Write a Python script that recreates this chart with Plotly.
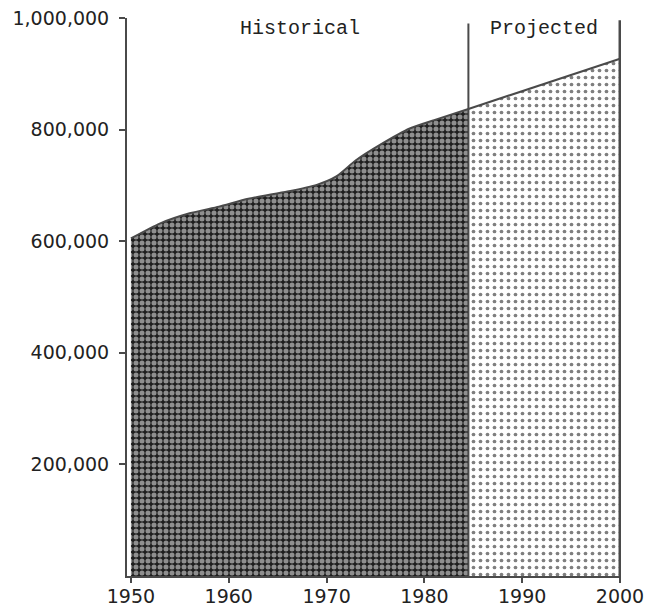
import plotly.graph_objects as go

# Data
hist_years = [1950, 1953, 1956, 1959, 1962, 1966, 1969, 1971, 1973, 1975.5, 1978.5, 1981, 1984.5]
hist_values = [605000, 632000, 650000, 662000, 676000, 689000, 701000, 716000, 745000, 773000, 802000, 817000, 837000]
proj_years = [1984.5, 2000]
proj_values = [837000, 927000]
x_ticks = [1950, 1960, 1970, 1980, 1990, 2000]
y_ticks = [200000, 400000, 600000, 800000, 1000000]
y_tick_labels = ["200,000", "400,000", "600,000", "800,000", "1,000,000"]
section_labels = ["Historical", "Projected"]

line_col = "#4a4a4a"
text_col = "#222222"

fig = go.Figure()
fig.add_trace(go.Scatter(
    x=hist_years, y=hist_values, mode="lines", fill="tozeroy",
    line=dict(color=line_col, width=2, shape="spline", smoothing=0.6),
    fillcolor="white",
    fillpattern=dict(shape=".", size=6, solidity=0.55, fgcolor="white", bgcolor="#1e1e1e"),
    hoverinfo="skip", showlegend=False,
))
fig.add_trace(go.Scatter(
    x=proj_years, y=proj_values, mode="lines", fill="tozeroy",
    line=dict(color=line_col, width=2),
    fillcolor="white",
    fillpattern=dict(shape=".", size=7, solidity=0.22, fgcolor="#000000", bgcolor="white"),
    hoverinfo="skip", showlegend=False,
))

# Vertical boundary lines
fig.add_shape(type="line", x0=proj_years[0], x1=proj_years[0], y0=0, y1=990000,
              line=dict(color=line_col, width=2), layer="above")
fig.add_shape(type="line", x0=proj_years[-1], x1=proj_years[-1], y0=0, y1=996000,
              line=dict(color=line_col, width=3), layer="above")

fig.add_annotation(x=(hist_years[0] + hist_years[-1]) / 2, y=982000, text=section_labels[0],
                   showarrow=False, font=dict(family="Liberation Mono", size=20, color=text_col))
fig.add_annotation(x=(proj_years[0] + proj_years[-1]) / 2, y=982000, text=section_labels[1],
                   showarrow=False, font=dict(family="Liberation Mono", size=20, color=text_col))

# The page places the figure 8px in from the top-left corner, so size/margins compensate
fig.update_layout(
    width=644, height=599,
    margin=dict(l=119, r=31, t=10, b=31),
    paper_bgcolor="white", plot_bgcolor="white",
    xaxis=dict(
        range=[1949.6, 2000.1], tickvals=x_ticks, ticktext=[str(t) for t in x_ticks],
        automargin=False, ticklabeloverflow="allow",
        showgrid=False, zeroline=False, showline=True, linecolor=line_col, linewidth=2,
        ticks="outside", ticklen=5, tickcolor=line_col, tickwidth=1.5,
        ticklabelstandoff=-3,
        tickfont=dict(family="DejaVu Sans", size=19, color=text_col),
    ),
    yaxis=dict(
        range=[0, 1000000], tickvals=y_ticks, ticktext=y_tick_labels,
        automargin=False, ticklabeloverflow="allow",
        showgrid=False, zeroline=False, showline=True, linecolor=line_col, linewidth=2,
        ticks="outside", ticklen=6, tickcolor=line_col, tickwidth=1.5,
        ticklabelstandoff=6,
        tickfont=dict(family="DejaVu Sans", size=19, color=text_col),
    ),
)

fig.write_html("out.html")
